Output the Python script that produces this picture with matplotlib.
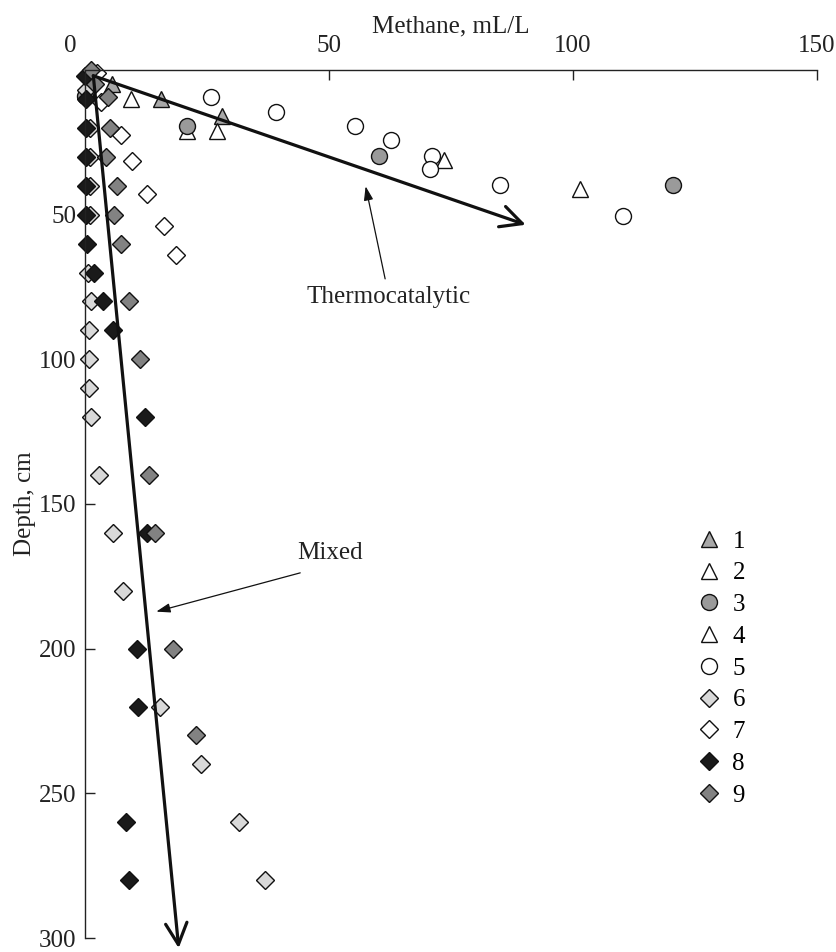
import matplotlib
matplotlib.use("Agg")
import matplotlib.pyplot as plt
import matplotlib.transforms as mtransforms

plt.rcParams['font.family'] = ['Liberation Serif', 'DejaVu Serif']
plt.rcParams['font.size'] = 18

# methane (mL/L) vs depth (cm) for each station
s1_x = [5.5, 15.6, 28.1]
s1_d = [5, 10, 16]
s2_x = [9.4, 20.9, 27.0]
s2_d = [10, 21, 21]
s3_x = [0.0, 20.9, 60.2, 120.5]
s3_d = [9, 19.5, 29.6, 39.6]
s4_x = [73.5, 101.5]
s4_d = [31, 41]
s5_x = [25.9, 39.2, 55.4, 62.8, 71.2, 70.7, 85.1, 110.3]
s5_d = [9.4, 14.4, 19.2, 24.3, 29.6, 34.2, 39.9, 50.3]
s6_x = [0.3, 1.0, 1.0, 1.0, 1.0, 0.6, 1.2, 0.9, 0.9, 0.9, 1.2, 2.9, 5.7, 7.7,
        15.3, 23.8, 31.5, 36.8]
s6_d = [7, 20, 30, 40, 50, 70, 80, 90, 100, 110, 120, 140, 160, 180,
        220, 240, 260, 280]
s7_x = [2.5, 3.2, 7.4, 9.6, 12.7, 16.1, 18.7]
s7_d = [1, 11, 22.5, 31.5, 43, 54, 64]
s8_x = [0.0, 0.3, 0.2, 0.2, 0.2, 0.2, 0.5, 1.9, 3.6, 5.7, 12.3, 12.7, 10.6,
        10.9, 8.4, 9.1]
s8_d = [2, 10, 20, 30, 40, 50, 60, 70, 80, 90, 120, 160, 200, 220, 260, 280]
s9_x = [1.2, 2.0, 4.8, 5.1, 4.3, 6.5, 6.0, 7.3, 9.0, 11.3, 13.2, 14.4, 18.0,
        22.7]
s9_d = [0, 5, 9.5, 20, 30, 40, 50, 60, 80, 100, 140, 160, 200, 230]

labels = ['1', '2', '3', '4', '5', '6', '7', '8', '9']

# trend arrows (start, end) in data coords
thermo_line = [(1.7, 2), (90.3, 53.5)]
mixed_line = [(1.7, 2), (19.2, 303.5)]

fig = plt.figure(figsize=(8.36, 9.52), dpi=100)
ax = fig.add_axes([0.1017, 0.0147, 0.8756, 0.9118])

series = [
    (s1_x, s1_d, '^', '#a8a8a8', 12),
    (s2_x, s2_d, '^', 'white', 12),
    (s3_x, s3_d, 'o', '#9a9a9a', 11.5),
    (s4_x, s4_d, '^', 'white', 12),
    (s5_x, s5_d, 'o', 'white', 11.5),
    (s6_x, s6_d, 'D', '#d9d9d9', 9.3),
    (s7_x, s7_d, 'D', 'white', 9.3),
    (s8_x, s8_d, 'D', '#1a1a1a', 9.3),
    (s9_x, s9_d, 'D', '#828282', 9.3),
]
for (x, d, m, c, ms), lab in zip(series, labels):
    ax.plot(x, d, linestyle='none', marker=m, markersize=ms,
            markerfacecolor=c, markeredgecolor='#111111',
            markeredgewidth=1.0, label=lab, clip_on=False)

# thick open-head trend arrows
for (p0, p1) in [thermo_line, mixed_line]:
    ax.annotate('', xy=p1, xytext=p0, annotation_clip=False,
                arrowprops=dict(arrowstyle='->,head_length=0.7,head_width=0.35',
                                lw=2.3, color='#111111', mutation_scale=22,
                                shrinkA=0, shrinkB=0), zorder=5)

# labels with thin pointers
ax.annotate('', xy=(57.5, 40.2), xytext=(61.5, 72.2),
            arrowprops=dict(arrowstyle='-|>,head_length=0.6,head_width=0.2',
                            lw=0.9, color='#111111', mutation_scale=14,
                            shrinkA=0, shrinkB=0))
ax.text(62.1, 78.4, 'Thermocatalytic', ha='center', va='center',
        color='#222222')
ax.annotate('', xy=(14.6, 187.2), xytext=(44.1, 173.8),
            arrowprops=dict(arrowstyle='-|>,head_length=0.6,head_width=0.2',
                            lw=0.9, color='#111111', mutation_scale=14,
                            shrinkA=0, shrinkB=0))
ax.text(50.3, 167, 'Mixed', ha='center', va='center', color='#222222')

ax.set_xlim(0, 150)
ax.set_ylim(300, 0)
ax.xaxis.tick_top()
ax.xaxis.set_label_position('top')
ax.set_xticks([0, 50, 100, 150])
ax.set_yticks([0, 50, 100, 150, 200, 250, 300])
ax.set_yticklabels(['', '50', '100', '150', '200', '250', '300'])
ax.tick_params(axis='x', direction='in', length=7, width=1, pad=9,
               colors='#222222')
ax.tick_params(axis='y', direction='in', length=7, width=1, pad=6,
               colors='#222222')
for side in ['right', 'bottom']:
    ax.spines[side].set_visible(False)
for side in ['left', 'top']:
    ax.spines[side].set_linewidth(1.0)
    ax.spines[side].set_color('#222222')

# the "0" label sits a bit left of the corner in the original
fig.canvas.draw()
lab0 = ax.get_xticklabels()[0]
lab0.set_transform(lab0.get_transform() +
                   mtransforms.ScaledTranslation(-0.15, 0, fig.dpi_scale_trans))

ax.set_xlabel('Methane, mL/L', labelpad=2, color='#222222')
ax.set_ylabel('Depth, cm', labelpad=2, color='#222222')

ax.legend(loc='center left', bbox_to_anchor=(0.835, 0.3106), frameon=False,
          handlelength=1.0, handletextpad=0.45, labelspacing=0.37,
          borderpad=0, borderaxespad=0, fontsize=18)

fig.savefig('out.png', dpi=100)
